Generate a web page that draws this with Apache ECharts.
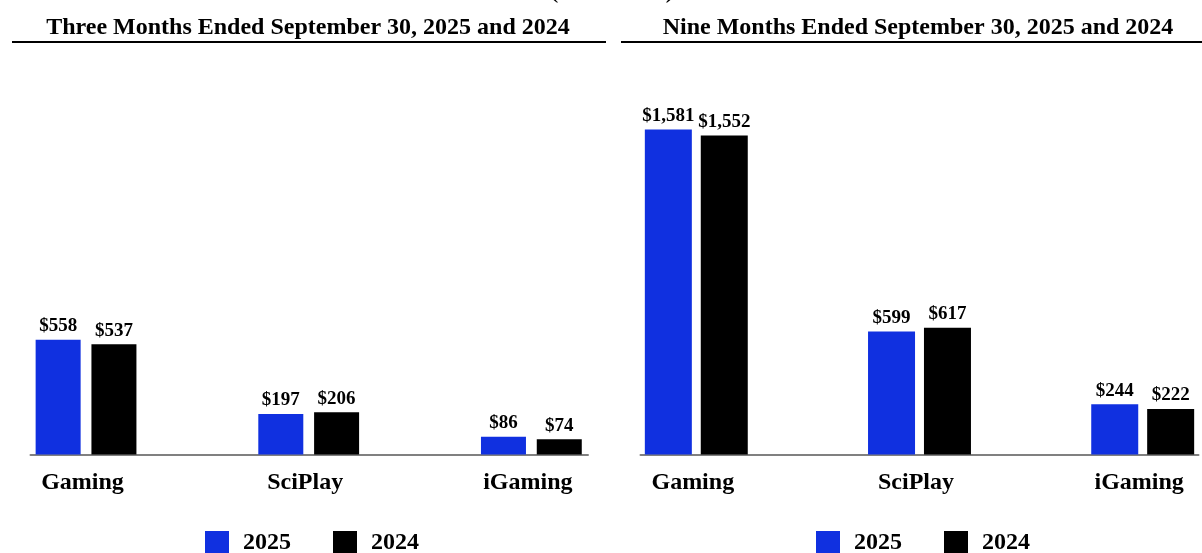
<!DOCTYPE html>
<html>
<head>
<meta charset="utf-8">
<script src="https://cdn.jsdelivr.net/npm/echarts@6/dist/echarts.min.js"></script>
<style>
  html, body { margin: 0; padding: 0; background: #fff; }
  #chart { width: 1202px; height: 553px; }
</style>
</head>
<body>
<div id="chart"></div>
<script>
// Segment revenue, in millions
const categories = ['Gaming', 'SciPlay', 'iGaming'];
const threeMonths2025 = [558, 197, 86];
const threeMonths2024 = [537, 206, 74];
const nineMonths2025 = [1581, 599, 244];
const nineMonths2024 = [1552, 617, 222];
const legendNames = ['2025', '2024'];

const FONT = 'Liberation Serif';
const BLUE = '#1030e0';
const GRID_TOP = 43.5, GRID_H = 411;

const chart = echarts.init(document.getElementById('chart'));

const money = v => '$' + v.value.toLocaleString('en-US');

function barSeries(name, data, idx, color, width, gap) {
    return {
        name, type: 'bar', data,
        xAxisIndex: idx, yAxisIndex: idx,
        barWidth: width, barGap: gap,
        itemStyle: { color },
        label: {
            show: true, position: 'top', distance: 4, formatter: money,
            fontFamily: FONT, fontWeight: 'bold', fontSize: 19, color: '#000'
        },
        emphasis: { disabled: true }
    };
}

const catAxis = grid => ({
    type: 'category', gridIndex: grid, data: categories,
    axisLine: { show: false }, axisTick: { show: false },
    axisLabel: { margin: 16, padding: [0, 7, 0, 0], fontFamily: FONT, fontWeight: 'bold', fontSize: 24, color: '#000' }
});
// plain axis used only to draw the grey baseline under each panel
const baseAxis = grid => ({
    type: 'value', gridIndex: grid, min: 0, max: 1,
    axisLine: { show: true, lineStyle: { color: '#808080', width: 2 } },
    axisTick: { show: false }, axisLabel: { show: false }, splitLine: { show: false }
});
const hiddenY = (grid, max) => ({ type: 'value', gridIndex: grid, min: 0, max, show: false, splitLine: { show: false } });

const titleStyle = { fontFamily: FONT, fontWeight: 'bold', fontSize: 24, color: '#000' };
const legendBase = {
    data: legendNames, top: 531, orient: 'horizontal', icon: 'rect',
    itemWidth: 24, itemHeight: 24, itemGap: 42, selectedMode: false, padding: 0,
    textStyle: { fontFamily: FONT, fontWeight: 'bold', fontSize: 24, color: '#000', padding: [0, 0, 0, 9] }
};
const gridBase = { top: GRID_TOP, height: GRID_H, outerBoundsMode: 'none', containLabel: false };

chart.setOption({
    backgroundColor: '#fff',
    animation: false,
    title: [
        { text: '(in millions)', left: 612, textAlign: 'center', top: -20, padding: 0, textStyle: titleStyle },
        { text: 'Three Months Ended September 30, 2025 and 2024', left: 308, textAlign: 'center', top: 16, padding: 0, textStyle: titleStyle },
        { text: 'Nine Months Ended September 30, 2025 and 2024', left: 918, textAlign: 'center', top: 16, padding: 0, textStyle: titleStyle }
    ],
    legend: [
        Object.assign({ left: 205 }, legendBase),
        Object.assign({ left: 816 }, legendBase)
    ],
    grid: [
        Object.assign({ left: -25.3, width: 668 }, gridBase),
        Object.assign({ left: 584.7, width: 669.6 }, gridBase),
        Object.assign({ left: 30.5, width: 557.5 }, gridBase),
        Object.assign({ left: 640.5, width: 558 }, gridBase)
    ],
    xAxis: [catAxis(0), catAxis(1), baseAxis(2), baseAxis(3)],
    yAxis: [hiddenY(0, 2000), hiddenY(1, 2000), hiddenY(2, 1), hiddenY(3, 1)],
    graphic: [
        { type: 'line', shape: { x1: 12, y1: 42, x2: 606, y2: 42 }, style: { stroke: '#000', lineWidth: 2 }, silent: true },
        { type: 'line', shape: { x1: 621, y1: 42, x2: 1202, y2: 42 }, style: { stroke: '#000', lineWidth: 2 }, silent: true }
    ],
    series: [
        barSeries('2025', threeMonths2025, 0, BLUE, 45, '24%'),
        barSeries('2024', threeMonths2024, 0, '#000', 45, '24%'),
        barSeries('2025', nineMonths2025, 1, BLUE, 47, '19%'),
        barSeries('2024', nineMonths2024, 1, '#000', 47, '19%')
    ]
});
</script>
</body>
</html>
